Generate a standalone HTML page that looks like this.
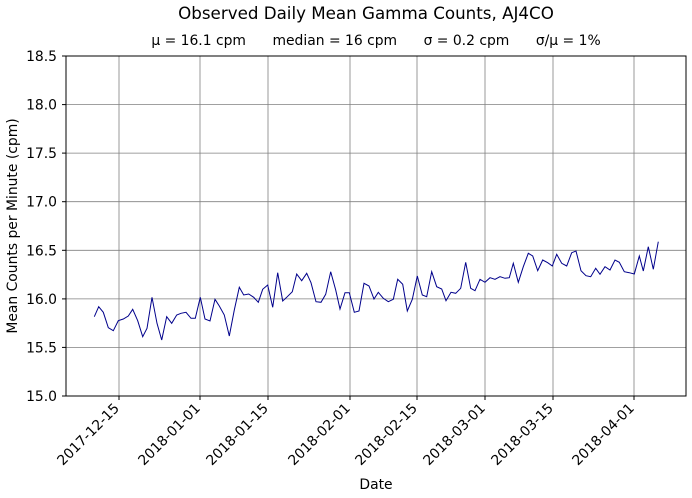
<!DOCTYPE html>
<html><head><style>body{margin:0;background:#fff}svg{display:block}text{font-family:"DejaVu Sans",sans-serif;fill:#000}</style></head>
<body>
<svg width="692" height="498" viewBox="0 0 692 498">
<text x="366" y="19" font-size="16.7" text-anchor="middle">Observed Daily Mean Gamma Counts, AJ4CO</text>
<text x="376" y="45" font-size="13.9" text-anchor="middle" xml:space="preserve">μ = 16.1 cpm      median = 16 cpm      σ = 0.2 cpm      σ/μ = 1%</text>
<g stroke="#808080" stroke-width="0.8">
<line x1="66" x2="686" y1="104.6" y2="104.6"/><line x1="66" x2="686" y1="153.1" y2="153.1"/><line x1="66" x2="686" y1="201.7" y2="201.7"/><line x1="66" x2="686" y1="250.3" y2="250.3"/><line x1="66" x2="686" y1="298.9" y2="298.9"/><line x1="66" x2="686" y1="347.4" y2="347.4"/>
<line y1="56" y2="396" x1="119" x2="119"/><line y1="56" y2="396" x1="200" x2="200"/><line y1="56" y2="396" x1="268" x2="268"/><line y1="56" y2="396" x1="350" x2="350"/><line y1="56" y2="396" x1="417" x2="417"/><line y1="56" y2="396" x1="485" x2="485"/><line y1="56" y2="396" x1="553" x2="553"/><line y1="56" y2="396" x1="634" x2="634"/>
</g>
<polyline fill="none" stroke="#00008b" stroke-width="1" points="94.3,316.7 98.7,306.7 103.3,312.3 108.3,327.7 113.3,330.7 118.3,320.7 123.3,319 128.3,316 132.7,309.3 137.7,320.7 142.7,336.7 147,328.3 152,297.3 157,323.3 161.7,340 166.7,316.7 171.7,323.3 176.7,315 181,313.3 186,312.3 191,318.3 195.3,318.3 200.3,297.3 205,319 210,321 215,299.3 219.3,306 224.3,315 229.3,336 234.3,310 239.3,287.3 243.7,295 248.7,294 253.7,297.3 258.3,302.3 262.7,289.3 267.7,285 272.7,307.3 277.7,272.7 282.7,301 287.3,296.7 292.3,291.7 296.7,274 301.7,280.7 306.7,273.3 311,282.7 316,301.7 321,302.3 325.7,294.3 330.7,271.7 335.7,290 340,309 345,292.7 349.3,292.7 354.3,312.3 359,311 364,283.3 369,286 374,299 378.3,292.3 383.3,298.3 388.3,301.7 393.3,299.3 397.7,279.3 402.7,284.3 407.3,311 412.3,299.3 417.3,276 422.3,295 426.7,296.7 431.7,271.7 436.7,286.7 441.7,289 446,300.7 451,292.3 455.7,293.3 460.7,288.3 465.7,262.3 470.7,288.3 475,290.7 480,279.3 485,282.3 490,277.7 495,279.3 500,276.7 505,278.3 509.3,277.7 513.3,263.3 518.3,282.3 523.3,266.7 528.3,253.3 532.7,256 537.7,270.7 542.7,260 547.7,262.7 552.3,266 556.7,254.3 561.7,263.3 566.7,266 571.7,252.7 576,251 581,270.7 586,275.7 590.7,276.7 595.7,268.3 600,274.3 605,266.7 610,270 615,260 619.3,262.3 624.3,271.7 629.3,272.7 634.3,274 639.3,256 643.3,271 648.3,246.7 653.3,269.3 658.3,241.7"/>
<rect x="66" y="56" width="620" height="340" fill="none" stroke="#000" stroke-width="1"/>
<g stroke="#000" stroke-width="1">
<line x1="62" x2="66" y1="56" y2="56"/><line x1="62" x2="66" y1="104.6" y2="104.6"/><line x1="62" x2="66" y1="153.1" y2="153.1"/><line x1="62" x2="66" y1="201.7" y2="201.7"/><line x1="62" x2="66" y1="250.3" y2="250.3"/><line x1="62" x2="66" y1="298.9" y2="298.9"/><line x1="62" x2="66" y1="347.4" y2="347.4"/><line x1="62" x2="66" y1="396" y2="396"/>
<line y1="396" y2="400" x1="119" x2="119"/><line y1="396" y2="400" x1="200" x2="200"/><line y1="396" y2="400" x1="268" x2="268"/><line y1="396" y2="400" x1="350" x2="350"/><line y1="396" y2="400" x1="417" x2="417"/><line y1="396" y2="400" x1="485" x2="485"/><line y1="396" y2="400" x1="553" x2="553"/><line y1="396" y2="400" x1="634" x2="634"/>
</g>
<g font-size="13.9" text-anchor="end">
<text x="57" y="61">18.5</text><text x="57" y="109.6">18.0</text><text x="57" y="158.1">17.5</text><text x="57" y="206.7">17.0</text><text x="57" y="255.3">16.5</text><text x="57" y="303.9">16.0</text><text x="57" y="352.4">15.5</text><text x="57" y="401">15.0</text>
<text transform="translate(120,409) rotate(-45)">2017-12-15</text>
<text transform="translate(201,409) rotate(-45)">2018-01-01</text>
<text transform="translate(269,409) rotate(-45)">2018-01-15</text>
<text transform="translate(351,409) rotate(-45)">2018-02-01</text>
<text transform="translate(418,409) rotate(-45)">2018-02-15</text>
<text transform="translate(486,409) rotate(-45)">2018-03-01</text>
<text transform="translate(554,409) rotate(-45)">2018-03-15</text>
<text transform="translate(635,409) rotate(-45)">2018-04-01</text>
</g>
<text x="376" y="489" font-size="13.9" text-anchor="middle">Date</text>
<text transform="translate(17,226) rotate(-90)" font-size="13.9" text-anchor="middle">Mean Counts per Minute (cpm)</text>
</svg>
</body></html>
